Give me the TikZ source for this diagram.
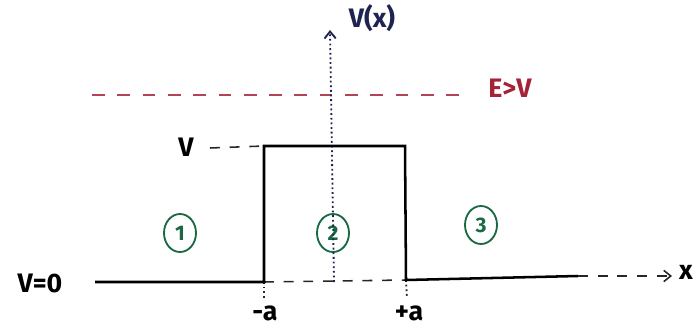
\documentclass[tikz,border=0pt]{standalone}
\usepackage{fontspec}
\setmainfont{Fira Sans}
\usepackage{tikz}
\usetikzlibrary{positioning,arrows.meta,shapes.geometric,calc}

\definecolor{ecol}{RGB}{165,35,55}
\definecolor{axcol}{RGB}{30,35,80}
\definecolor{regcol}{RGB}{25,105,65}

\begin{document}
\begin{tikzpicture}[
  x=0.025cm, y=-0.025cm,
  font=\fontsize{19}{22}\selectfont\bfseries, >={Straight Barb[length=5pt,width=8pt]},
  wall/.style={line width=1.8pt, black},
  axisline/.style={dotted, line width=1.3pt, black!85},
  energy/.style={dashed, line width=1.1pt, ecol!85, dash pattern=on 9pt off 9pt},
  guide/.style={dashed, line width=1.1pt, black!85, dash pattern=on 7pt off 7pt},
  region/.style={draw=regcol, line width=1.3pt, ellipse, text=regcol, inner sep=0pt,
                 minimum width=0.8cm, minimum height=0.95cm,
                 font=\fontsize{15}{17}\selectfont\bfseries},
  lbl/.style={inner sep=1pt},
]
\useasboundingbox (0,0) rectangle (696,329);

% barrier corners
\coordinate (bl) at (264,282);
\coordinate (tl) at (264,146);
\coordinate (tr) at (405,146);
\coordinate (br) at (406,280);
\coordinate (lend) at (95,282);
\coordinate (rend) at (578,276);
\coordinate (xend) at (672,276);
\coordinate (ybot) at (334,282);
\coordinate (ytop) at (330,30);
\coordinate (estart) at (92,95);
\coordinate (eend) at (466,95);
\coordinate (vdash) at (210,148);
\coordinate (ltick) at (264,298);
\coordinate (rtick) at (407,298);

\node[lbl, text=axcol] (vx) at (372,18) {V(x)};
\node[lbl, text=ecol]  (ev) at (510,88) {E>V};
\node[lbl]             (vv) at (186,147) {V};
\node[lbl]             (v0) at (40,283) {V=0};
\node[lbl]             (ma) at (265,313) {-a};
\node[lbl]             (pa) at (409,313) {+a};
\node[lbl]             (xx) at (686,272) {x};
\node[region] (r1) at (180,233) {1};
\node[region] (r2) at (333,233) {2};
\node[region] (r3) at (481,225) {3};

\draw[energy] (estart) -- (eend);
\draw[axisline, ->, axcol] (ybot) -- (ytop);
\draw[guide] (vdash) -- (tl);
\draw[guide] (bl) -- (br);
\draw[axisline] (bl) -- (ltick);
\draw[axisline] (br) -- (rtick);
\draw[wall] (lend) -- (bl) -- (tl) -- (tr) -- (br) -- (rend);
\draw[guide, ->] (rend) -- (xend);
\end{tikzpicture}
\end{document}
